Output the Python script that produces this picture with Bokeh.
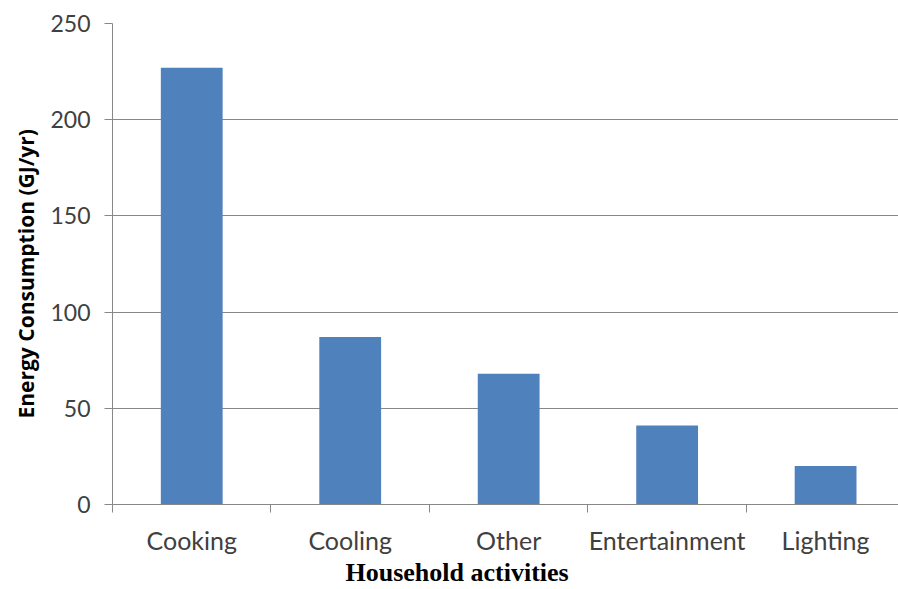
from bokeh.embed import file_html
from bokeh.models import ColumnDataSource, FixedTicker, Range1d, Title
from bokeh.plotting import figure
from bokeh.resources import INLINE

# Annual household energy use by activity
activities = ["Cooking", "Cooling", "Other", "Entertainment", "Lighting"]
energy_gj = [227, 87, 68, 41, 20]
y_ticks = [0, 50, 100, 150, 200, 250]

x_title = "Household activities"
y_title = "Energy Consumption (GJ/yr)"

BAR_BLUE = "#4F81BD"
GRID_GRAY = "#878787"
LABEL_GRAY = "#404040"

# categories sit at the centre of unit-wide slots: 0.5, 1.5, ...
centers = [i + 0.5 for i in range(len(activities))]
boundaries = list(range(len(activities) + 1))

source = ColumnDataSource(dict(x=centers, top=energy_gj, name=activities))

p = figure(
    width=898,
    height=589,
    output_backend="svg",
    toolbar_location=None,
    x_range=Range1d(0, 4.96),
    y_range=Range1d(0, 250),
    min_border_left=112,
    min_border_right=0,
    min_border_top=23,
    min_border_bottom=85,
    background_fill_color="white",
    border_fill_color="white",
)
p.outline_line_color = None

p.vbar(x="x", top="top", bottom=0, width=0.39, source=source,
       fill_color=BAR_BLUE, line_color=None)

# horizontal grid
p.xgrid.visible = False
p.ygrid.ticker = FixedTicker(ticks=y_ticks)
p.ygrid.grid_line_color = GRID_GRAY
p.ygrid.grid_line_width = 1
p.ygrid.level = "underlay"

# y axis
yax = p.yaxis[0]
yax.ticker = FixedTicker(ticks=y_ticks)
yax.axis_line_color = GRID_GRAY
yax.major_tick_line_color = GRID_GRAY
yax.major_tick_out = 8
yax.major_tick_in = 0
yax.minor_tick_line_color = None
yax.major_label_text_font = "Lato"
yax.major_label_text_font_size = "23px"
yax.major_label_text_color = LABEL_GRAY
yax.major_label_standoff = 14

# x axis: labels at category centres, tick marks between categories
xax = p.xaxis[0]
xax.ticker = FixedTicker(ticks=centers, minor_ticks=boundaries)
xax.major_label_overrides = {c: n for c, n in zip(centers, activities)}
xax.axis_line_color = GRID_GRAY
xax.major_tick_line_color = None
xax.major_tick_out = 0
xax.major_tick_in = 0
xax.minor_tick_line_color = GRID_GRAY
xax.minor_tick_out = 8
xax.minor_tick_in = 0
xax.major_label_text_font = "Lato"
xax.major_label_text_font_size = "25px"
xax.major_label_text_color = LABEL_GRAY
xax.major_label_standoff = 12

# axis titles
p.add_layout(Title(
    text=x_title, align="left", offset=233, standoff=0,
    vertical_align="top",
    text_font="Liberation Serif", text_font_style="bold",
    text_font_size="26px", text_color="black",
), "below")
p.add_layout(Title(
    text=y_title, align="left", offset=86, standoff=15,
    vertical_align="bottom",
    text_font="Open Sans", text_font_style="bold",
    text_font_size="21px", text_color="black",
), "left")

open("out.html", "w").write(file_html(p, INLINE))
